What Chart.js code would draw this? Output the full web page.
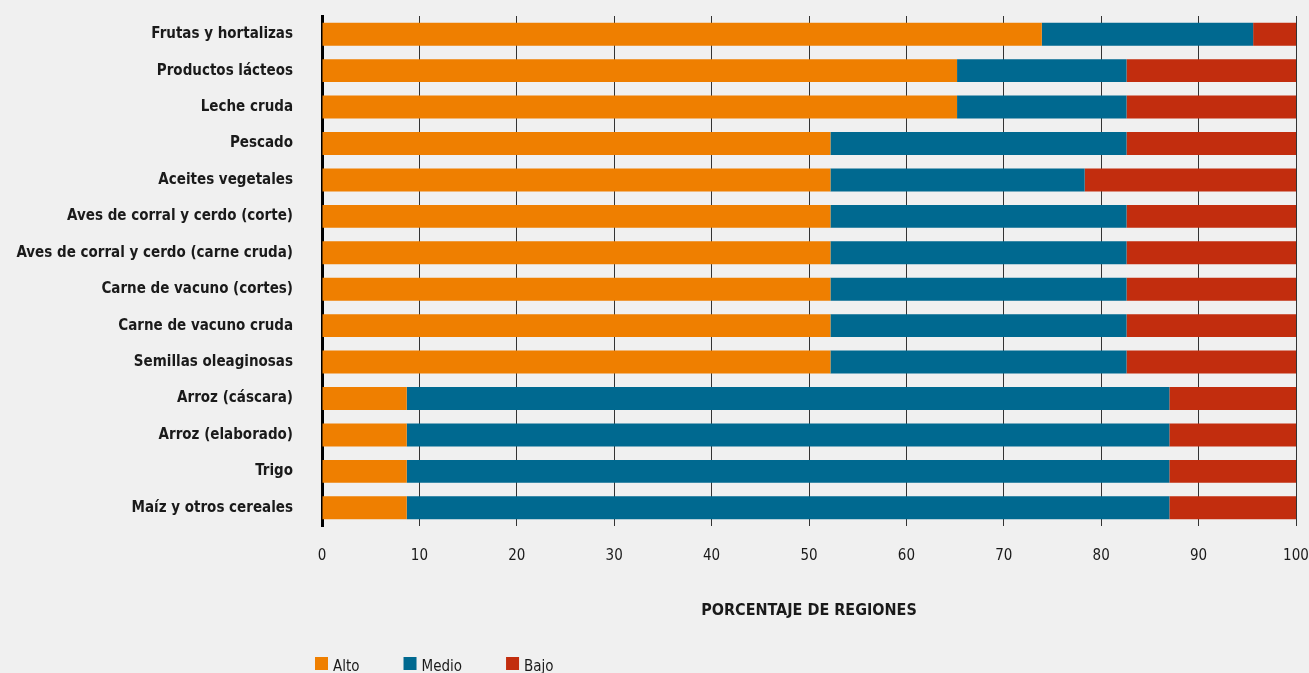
<!DOCTYPE html>
<html>
<head>
<meta charset="utf-8">
<script src="https://cdn.jsdelivr.net/npm/chart.js@4/dist/chart.umd.min.js"></script>
<style>
  html, body { margin: 0; padding: 0; background: #f0f0f0; overflow: hidden; }
  #wrap { width: 1309px; height: 673px; position: relative; }
</style>
</head>
<body>
<div id="wrap"><canvas id="c"></canvas></div>
<script>
const categories = [
  "Frutas y hortalizas",
  "Productos lácteos",
  "Leche cruda",
  "Pescado",
  "Aceites vegetales",
  "Aves de corral y cerdo (corte)",
  "Aves de corral y cerdo (carne cruda)",
  "Carne de vacuno (cortes)",
  "Carne de vacuno cruda",
  "Semillas oleaginosas",
  "Arroz (cáscara)",
  "Arroz (elaborado)",
  "Trigo",
  "Maíz y otros cereales"
];
const seriesNames = ["Alto", "Medio", "Bajo"];
const alto  = [73.9, 65.2, 65.2, 52.2, 52.2, 52.2, 52.2, 52.2, 52.2, 52.2, 8.7, 8.7, 8.7, 8.7];
const medio = [21.7, 17.4, 17.4, 30.4, 26.1, 30.4, 30.4, 30.4, 30.4, 30.4, 78.3, 78.3, 78.3, 78.3];
const bajo  = [4.4, 17.4, 17.4, 17.4, 21.7, 17.4, 17.4, 17.4, 17.4, 17.4, 13.0, 13.0, 13.0, 13.0];
const xTicks = [0, 10, 20, 30, 40, 50, 60, 70, 80, 90, 100];
const axisTitle = "PORCENTAJE DE REGIONES";

const colors = ["#EF7F00", "#006990", "#C22D0E"];
const FAMILY = "'DejaVu Sans Condensed', 'Liberation Sans Narrow', sans-serif";

const customLegend = {
  id: 'customLegend',
  afterDraw(chart) {
    const ctx = chart.ctx;
    const area = chart.chartArea;
    ctx.save();
    ctx.font = "15px " + FAMILY;
    ctx.textBaseline = 'alphabetic';
    ctx.textAlign = 'left';
    let x = area.left - 7;
    const boxTop = 657;
    const box = 13;
    chart.data.datasets.forEach((ds) => {
      ctx.fillStyle = ds.backgroundColor;
      ctx.fillRect(x, boxTop, box, box);
      ctx.fillStyle = "#1a1a1a";
      const tx = x + box + 5;
      ctx.fillText(ds.label, tx, boxTop + 14);
      x = tx + ctx.measureText(ds.label).width + 44;
    });
    ctx.restore();
  }
};

new Chart(document.getElementById('c'), {
  type: 'bar',
  data: {
    labels: categories,
    datasets: [
      { label: seriesNames[0], data: alto,  backgroundColor: colors[0] },
      { label: seriesNames[1], data: medio, backgroundColor: colors[1] },
      { label: seriesNames[2], data: bajo,  backgroundColor: colors[2] }
    ]
  },
  options: {
    indexAxis: 'y',
    responsive: true,
    maintainAspectRatio: false,
    animation: false,
    datasets: { bar: { barPercentage: 0.63, categoryPercentage: 1.0, borderWidth: 0 } },
    layout: { padding: { top: 16, right: 13, bottom: 53, left: 0 } },
    plugins: {
      legend: { display: false },
      tooltip: { enabled: false }
    },
    scales: {
      x: {
        stacked: true,
        min: 0,
        max: 100,
        afterBuildTicks: (s) => { s.ticks = xTicks.map(v => ({ value: v })); },
        afterFit: (s) => { s.paddingLeft = 0; s.paddingRight = 0; s.height = 94; },
        grid: { display: true, color: "#333333", lineWidth: 1, drawTicks: false },
        border: { display: false },
        ticks: {
          padding: 21,
          color: "#1a1a1a",
          font: { family: FAMILY, size: 15 },
          maxRotation: 0
        },
        title: {
          display: true,
          text: axisTitle,
          color: "#1a1a1a",
          font: { family: FAMILY, size: 16, weight: 'bold' },
          padding: { top: 37, bottom: 0 }
        }
      },
      y: {
        stacked: true,
        afterFit: (s) => { s.width = 322; s.paddingTop = 0; s.paddingBottom = 0; },
        grid: { display: false, drawTicks: false },
        border: { display: true, color: "#000000", width: 3 },
        ticks: {
          padding: 29,
          color: "#1a1a1a",
          font: { family: FAMILY, size: 15, weight: 'bold' },
          autoSkip: false
        }
      }
    }
  },
  plugins: [customLegend]
});
</script>
</body>
</html>
